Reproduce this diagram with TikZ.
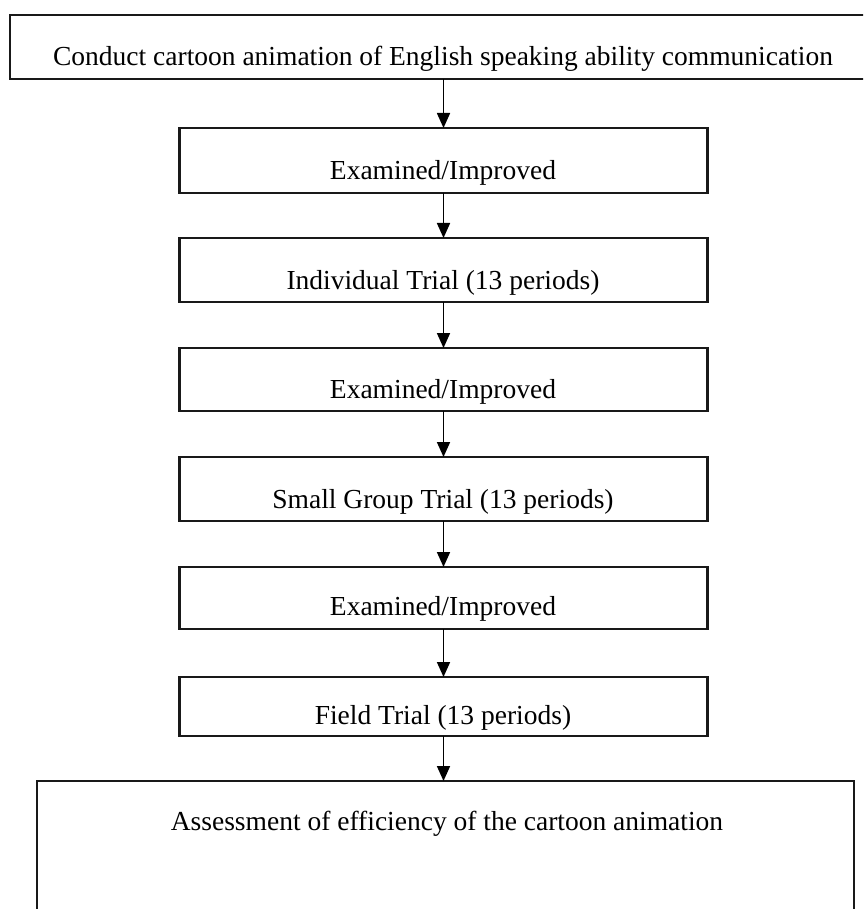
\documentclass[tikz,border=0pt]{standalone}
\usepackage{fontspec}
\setmainfont{Liberation Serif}
\usetikzlibrary{arrows.meta}
\begin{document}
\begin{tikzpicture}[x=1pt,y=-1pt,
  box/.style={draw=black!90, line width=2.2pt, inner sep=0pt, outer sep=0pt, fill=none},
  lbl/.style={anchor=base, inner sep=0pt, font=\fontsize{27.5pt}{32pt}\selectfont},
  arr/.style={draw=black, line width=1.7pt, -{Triangle[length=15pt,width=13pt]}}]
\useasboundingbox (0,0) rectangle (863,909);
\clip (0,0) rectangle (863,909);
% boxes
\node[box, minimum width=870pt, minimum height=64pt] (b1) at (445,47) {};
\node[box, minimum width=528pt, minimum height=65pt] (b2) at (443.5,160.5) {};
\node[box, minimum width=528pt, minimum height=64pt] (b3) at (443.5,270) {};
\node[box, minimum width=528pt, minimum height=63pt] (b4) at (443.5,379.5) {};
\node[box, minimum width=528pt, minimum height=64pt] (b5) at (443.5,489) {};
\node[box, minimum width=528pt, minimum height=62pt] (b6) at (443.5,598) {};
\node[box, minimum width=528pt, minimum height=59pt] (b7) at (443.5,706.5) {};
\node[box, minimum width=817pt, minimum height=160pt] (b8) at (445.5,861) {};
% labels
\node[lbl] (t1) at (443,66) {Conduct cartoon animation of English speaking ability communication};
\node[lbl] (t2) at (443,180) {Examined/Improved};
\node[lbl] (t3) at (443,289) {Individual Trial (13 periods)};
\node[lbl] (t4) at (443,398) {Examined/Improved};
\node[lbl] (t5) at (443,508) {Small Group Trial (13 periods)};
\node[lbl] (t6) at (443,615) {Examined/Improved};
\node[lbl] (t7) at (443,724) {Field Trial (13 periods)};
\node[lbl] (t8) at (447,830) {Assessment of efficiency of the cartoon animation};
% arrows
\draw[arr] (b1.south -| b2.north) -- (b2.north);
\draw[arr] (b2.south) -- (b3.north);
\draw[arr] (b3.south) -- (b4.north);
\draw[arr] (b4.south) -- (b5.north);
\draw[arr] (b5.south) -- (b6.north);
\draw[arr] (b6.south) -- (b7.north);
\draw[arr] (b7.south) -- (b8.north -| b7.south);
\end{tikzpicture}
\end{document}
